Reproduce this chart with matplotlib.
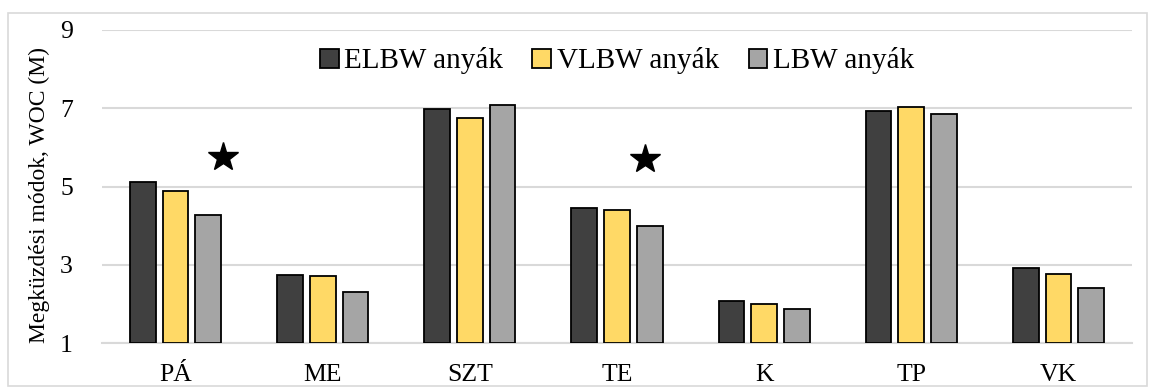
import numpy as np
import matplotlib.pyplot as plt
from matplotlib.patches import Rectangle

categories = ["PÁ", "ME", "SZT", "TE", "K", "TP", "VK"]
elbw = [5.11, 2.75, 6.98, 4.46, 2.08, 6.92, 2.91]
vlbw = [4.89, 2.72, 6.74, 4.40, 2.00, 7.04, 2.77]
lbw = [4.28, 2.31, 7.09, 3.99, 1.87, 6.85, 2.41]
series_labels = ["ELBW anyák", "VLBW anyák", "LBW anyák"]
star_x = [0.32, 3.19]
star_y = [5.76, 5.70]

plt.rcParams["font.family"] = ["Liberation Serif", "DejaVu Serif"]

fig = plt.figure(figsize=(11.49, 3.87), dpi=100)
ax = fig.add_axes([102 / 1149, 1 - 343 / 387, 1030 / 1149, 313 / 387])

x = np.arange(len(categories))
colors = ["#404040", "#FFD966", "#A5A5A5"]
w = 0.175
step = 0.222
for i, (vals, lab, c) in enumerate(zip([elbw, vlbw, lbw], series_labels, colors)):
    ax.bar(x + (i - 1) * step, np.array(vals) - 1, bottom=1, width=w,
           color=c, edgecolor="black", linewidth=1.3, label=lab, zorder=3)

ax.plot(star_x, star_y, linestyle="none", marker="*", markersize=22,
        color="black", zorder=4)

ax.set_xlim(-0.5, len(categories) - 0.5)
ax.set_ylim(1, 9)
ax.set_yticks([1, 3, 5, 7, 9])
ax.set_xticks(x)
ax.set_xticklabels(categories)
ax.tick_params(axis="both", length=0, labelsize=18.5)
ax.tick_params(axis="x", pad=15)
ax.tick_params(axis="y", pad=21)
ax.yaxis.grid(True, color="#D9D9D9", linewidth=1.5, zorder=0)
ax.set_axisbelow(True)
for s in ["top", "right", "left"]:
    ax.spines[s].set_visible(False)
ax.spines["bottom"].set_color("#D9D9D9")
ax.spines["bottom"].set_linewidth(1.5)

fig.text(39 / 1149, 1 - 195 / 387, "Megküzdési módok, WOC (M)", fontsize=17,
         rotation=90, ha="center", va="center")

ax.legend(loc="upper center", bbox_to_anchor=(0.5, 1.0), ncol=3, frameon=False,
          fontsize=21, handlelength=0.65, handleheight=0.65, handletextpad=0.2,
          columnspacing=1.0, borderaxespad=0.2)

fig.patches.append(Rectangle((8 / 1149, 1 - 386 / 387), 1139 / 1149, 373 / 387,
                             transform=fig.transFigure, fill=False,
                             edgecolor="#D9D9D9", linewidth=1.2))

fig.savefig("out.png", dpi=100)
